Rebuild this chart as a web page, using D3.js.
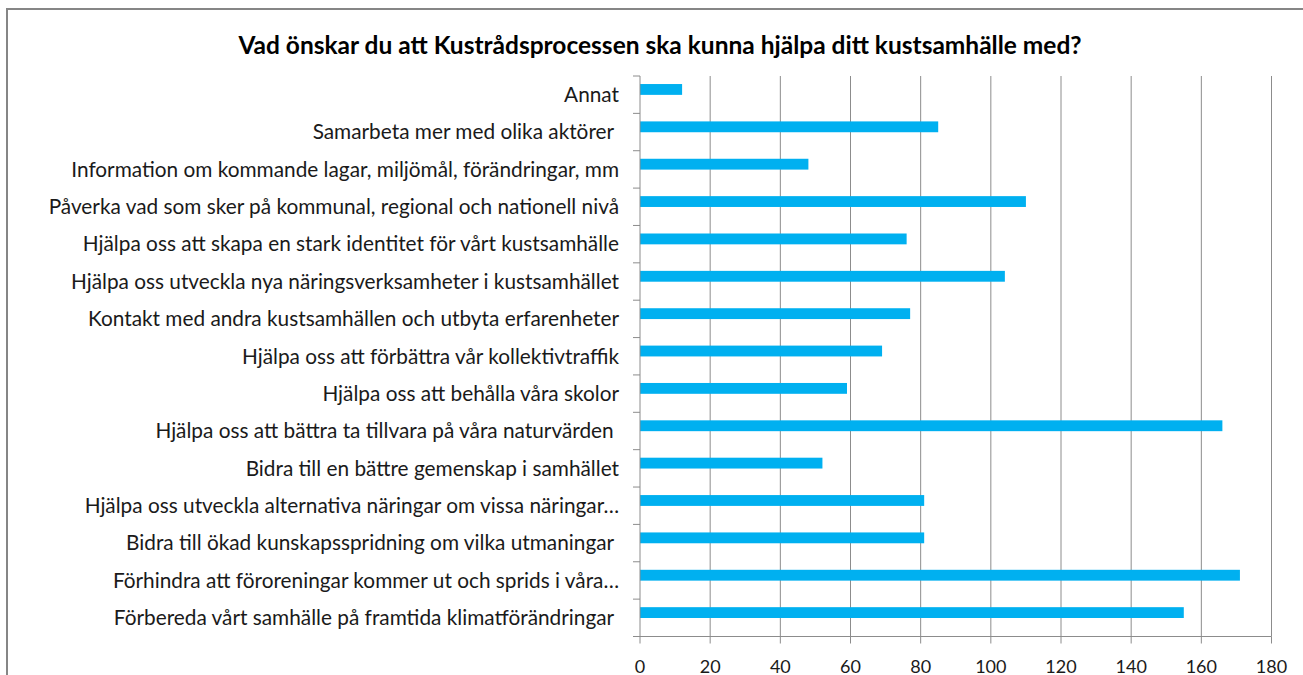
<!DOCTYPE html>
<html>
<head>
<meta charset="utf-8">
<script src="https://cdn.jsdelivr.net/npm/d3@7"></script>
<style>
  html, body { margin: 0; padding: 0; background: #fff; }
  svg { display: block; }
</style>
</head>
<body>
<svg id="chart" width="1303" height="675"></svg>
<script>
const title = "Vad önskar du att Kustrådsprocessen ska kunna hjälpa ditt kustsamhälle med?";
const categories = [
  "Annat",
  "Samarbeta mer med olika aktörer ",
  "Information om kommande lagar, miljömål, förändringar, mm",
  "Påverka vad som sker på kommunal, regional och nationell nivå",
  "Hjälpa oss att skapa en stark identitet för vårt kustsamhälle",
  "Hjälpa oss utveckla nya näringsverksamheter i kustsamhället",
  "Kontakt med andra kustsamhällen och utbyta erfarenheter",
  "Hjälpa oss att förbättra vår kollektivtraffik",
  "Hjälpa oss att behålla våra skolor",
  "Hjälpa oss att bättra ta tillvara på våra naturvärden ",
  "Bidra till en bättre gemenskap i samhället",
  "Hjälpa oss utveckla alternativa näringar om vissa näringar…",
  "Bidra till ökad kunskapsspridning om vilka utmaningar ",
  "Förhindra att föroreningar kommer ut och sprids i våra…",
  "Förbereda vårt samhälle på framtida klimatförändringar "
];
const values = [12, 85, 48, 110, 76, 104, 77, 69, 59, 166, 52, 81, 81, 171, 155];
const xTicks = [0, 20, 40, 60, 80, 100, 120, 140, 160, 180];

const svg = d3.select("#chart");
const font = "Lato, 'Open Sans', 'Liberation Sans', sans-serif";

// outer chart border (right/bottom clipped by window)
svg.append("rect")
  .attr("x", 7).attr("y", 9).attr("width", 1320).attr("height", 720)
  .attr("fill", "#fff").attr("stroke", "#868686").attr("stroke-width", 2);

const plot = { left: 640, right: 1271.5, top: 76, bottom: 636.5 };

const x = d3.scaleLinear().domain([0, 180]).range([plot.left, plot.right]);
const y = d3.scaleBand().domain(categories).range([plot.top, plot.bottom]);
const bw = y.bandwidth();

// gridlines
svg.append("g").selectAll("line")
  .data(xTicks.filter(d => d > 0))
  .join("line")
  .attr("x1", d => x(d)).attr("x2", d => x(d))
  .attr("y1", plot.top).attr("y2", plot.bottom)
  .attr("stroke", "#8c8c8c").attr("stroke-width", 1);

// bars
svg.append("g").selectAll("rect")
  .data(values)
  .join("rect")
  .attr("x", x(0))
  .attr("y", (d, i) => y(categories[i]) + bw * 0.215)
  .attr("width", d => x(d) - x(0))
  .attr("height", bw * 0.29)
  .attr("fill", "#00b0f0");

// y axis
const yAxis = svg.append("g")
  .attr("transform", `translate(${plot.left},0)`);
yAxis.append("line")
  .attr("x1", 0).attr("x2", 0).attr("y1", plot.top).attr("y2", plot.bottom)
  .attr("stroke", "#8c8c8c");
const boundaries = categories.map(c => y(c)).concat([plot.bottom]);
yAxis.selectAll("line.tick").data(boundaries).join("line")
  .attr("class", "tick")
  .attr("x1", -7).attr("x2", 0)
  .attr("y1", d => d).attr("y2", d => d)
  .attr("stroke", "#8c8c8c");
yAxis.selectAll("text").data(categories).join("text")
  .attr("x", -21)
  .attr("y", d => y(d) + bw / 2)
  .attr("dy", "0.35em")
  .attr("text-anchor", "end")
  .attr("font-family", font)
  .attr("font-size", 20.8)
  .attr("fill", "#1a1a1a")
  .style("white-space", "pre")
  .text(d => d);

// x axis
const xAxis = svg.append("g")
  .attr("transform", `translate(0,${plot.bottom})`);
xAxis.append("line")
  .attr("x1", plot.left).attr("x2", plot.right).attr("y1", 0).attr("y2", 0)
  .attr("stroke", "#8c8c8c");
xAxis.selectAll("line.tick").data(xTicks).join("line")
  .attr("class", "tick")
  .attr("x1", d => x(d)).attr("x2", d => x(d))
  .attr("y1", 0).attr("y2", 7)
  .attr("stroke", "#8c8c8c");
xAxis.selectAll("text").data(xTicks).join("text")
  .attr("x", d => x(d))
  .attr("y", 36)
  .attr("text-anchor", "middle")
  .attr("font-family", font)
  .attr("font-size", 18)
  .attr("fill", "#1a1a1a")
  .text(d => d);

// title
svg.append("text")
  .attr("x", 660).attr("y", 54)
  .attr("text-anchor", "middle")
  .attr("font-family", font)
  .attr("font-weight", "bold")
  .attr("font-size", 24.5)
  .attr("fill", "#000")
  .text(title);
</script>
</body>
</html>
